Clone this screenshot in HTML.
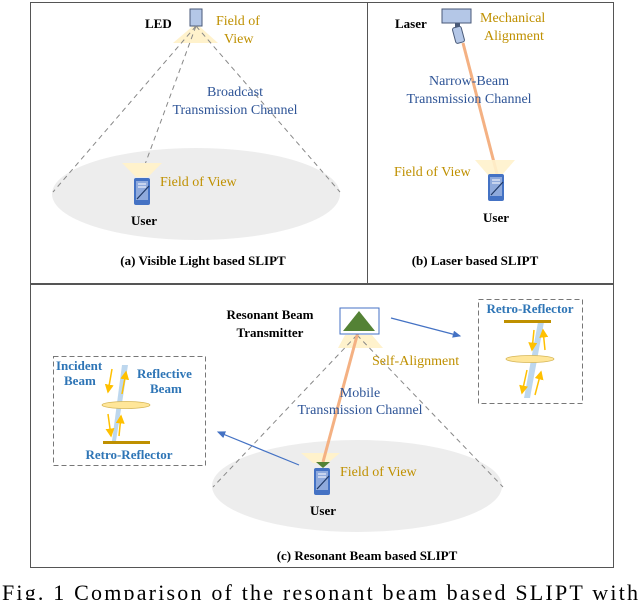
<!DOCTYPE html>
<html><head><meta charset="utf-8"><style>
html,body{margin:0;padding:0;background:#fff;}
svg{display:block;}
text{font-family:"Liberation Serif",serif;}
.b{font-weight:bold;fill:#000;font-size:13px;}
.bl{fill:#2f5597;font-size:14px;}
.g{fill:#bf9000;font-size:14px;}
.rb{fill:#2e75b6;font-weight:bold;font-size:13px;}
</style></head><body>
<svg width="640" height="600" viewBox="0 0 640 600" xmlns="http://www.w3.org/2000/svg">
<defs>
<marker id="ab" markerWidth="8" markerHeight="8" refX="6" refY="3" orient="auto"><path d="M0,0 L7,3 L0,6z" fill="#4472c4"/></marker>
<marker id="ay" markerWidth="6" markerHeight="6" refX="5" refY="3" orient="auto"><path d="M0,0 L6,3 L0,6z" fill="#ffc000"/></marker>
<g id="phone">
<rect x="0" y="0" width="16" height="27" rx="2" fill="#4472c4"/>
<rect x="2" y="3" width="12" height="19" fill="#8faadc"/>
<line x1="4" y1="6" x2="12" y2="6" stroke="#fff"/>
<line x1="4" y1="9" x2="12" y2="9" stroke="#fff"/>
<line x1="3" y1="21" x2="15" y2="8" stroke="#1f3864" stroke-width="1.2"/>
</g>
</defs>
<rect x="30.5" y="2.5" width="583" height="281" fill="none" stroke="#555"/>
<line x1="367.5" y1="2" x2="367.5" y2="284" stroke="#555"/>
<rect x="30.5" y="284.5" width="583" height="283" fill="none" stroke="#555"/>

<!-- Panel a -->
<ellipse cx="196" cy="194" rx="144" ry="46" fill="#ededed"/>
<polygon points="193,26 199,26 218,43 173,43" fill="#fff2cc"/>
<rect x="190" y="9" width="12" height="17" fill="#b4c7e7" stroke="#4a5a78"/>
<g stroke="#888" stroke-dasharray="5,4" fill="none">
<line x1="196" y1="26" x2="53" y2="192"/>
<line x1="196" y1="26" x2="340" y2="192"/>
<line x1="196" y1="26" x2="140" y2="178"/>
</g>
<polygon points="122,163 162,163 148,177 136,177" fill="#fff2cc"/>
<use href="#phone" x="134" y="178"/>
<text class="b" x="145" y="28">LED</text>
<text class="g" x="216" y="25">Field of</text>
<text class="g" x="224" y="43">View</text>
<text class="bl" x="235" y="96" text-anchor="middle">Broadcast</text>
<text class="bl" x="235" y="114" text-anchor="middle">Transmission Channel</text>
<text class="g" x="160" y="186">Field of View</text>
<text class="b" x="144" y="225" text-anchor="middle">User</text>
<text class="b" x="203" y="265" text-anchor="middle">(a) Visible Light based SLIPT</text>

<!-- Panel b -->
<line x1="463" y1="43" x2="497" y2="174" stroke="#f4b183" stroke-width="3"/>
<polygon points="475,160 515,160 502,175 488,175" fill="#fff2cc" opacity="0.9"/>
<rect x="442" y="9" width="29" height="14" fill="#b4c7e7" stroke="#4a5a78"/>
<rect x="455" y="23" width="5" height="5" fill="#4a5a78"/>
<rect x="454" y="27" width="9" height="16" rx="2" fill="#b4c7e7" stroke="#4a5a78" transform="rotate(-15 458 35)"/>
<use href="#phone" x="488" y="174"/>
<text class="b" x="395" y="28">Laser</text>
<text class="g" x="480" y="22">Mechanical</text>
<text class="g" x="484" y="40">Alignment</text>
<text class="bl" x="469" y="85" text-anchor="middle">Narrow-Beam</text>
<text class="bl" x="469" y="103" text-anchor="middle">Transmission Channel</text>
<text class="g" x="394" y="176">Field of View</text>
<text class="b" x="496" y="222" text-anchor="middle">User</text>
<text class="b" x="475" y="265" text-anchor="middle">(b) Laser based SLIPT</text>

<!-- Panel c -->
<ellipse cx="357" cy="486" rx="145" ry="46" fill="#ededed"/>
<polygon points="345,335 372,335 383,348 338,348" fill="#fff2cc"/>
<g stroke="#888" stroke-dasharray="5,4" fill="none">
<line x1="357" y1="335" x2="213" y2="487"/>
<line x1="357" y1="335" x2="503" y2="487"/>
</g>
<polygon points="301,453 340,453 328,463 313,463" fill="#fff2cc"/>
<line x1="358" y1="332" x2="323" y2="462" stroke="#f4b183" stroke-width="3"/>
<rect x="340" y="308" width="39" height="26" fill="#fff" stroke="#4472c4"/>
<polygon points="359,311 375,331 343,331" fill="#548235"/>
<polygon points="316,462 330,462 323,468" fill="#548235"/>
<use href="#phone" x="314" y="468"/>
<text class="b" x="270" y="319" text-anchor="middle">Resonant Beam</text>
<text class="b" x="270" y="337" text-anchor="middle">Transmitter</text>
<text class="g" x="372" y="365">Self-Alignment</text>
<text class="bl" x="360" y="397" text-anchor="middle">Mobile</text>
<text class="bl" x="360" y="414" text-anchor="middle">Transmission Channel</text>
<text class="g" x="340" y="476">Field of View</text>
<text class="b" x="323" y="515" text-anchor="middle">User</text>
<text class="b" x="367" y="560" text-anchor="middle">(c) Resonant Beam based SLIPT</text>
<line x1="391" y1="318" x2="460" y2="336" stroke="#4472c4" stroke-width="1.2" marker-end="url(#ab)"/>
<line x1="299" y1="465" x2="218" y2="432" stroke="#4472c4" stroke-width="1.2" marker-end="url(#ab)"/>

<!-- left box -->
<rect x="53.5" y="356.5" width="152" height="109" fill="#fff" stroke="#777" stroke-dasharray="5,3"/>
<polygon points="122,365 128,365 116,441 112,441" fill="#bdd7ee"/>
<ellipse cx="126" cy="405" rx="24" ry="3.5" fill="#ffe699" stroke="#d6b656" stroke-width="0.8"/>
<rect x="103" y="441" width="47" height="3" fill="#bf9000"/>
<g stroke="#ffc000" stroke-width="1.5" marker-end="url(#ay)">
<line x1="112" y1="369" x2="108" y2="392"/>
<line x1="122" y1="394" x2="126" y2="372"/>
<line x1="108" y1="414" x2="111" y2="436"/>
<line x1="119" y1="436" x2="121" y2="416"/>
</g>
<text class="rb" x="56" y="370">Incident</text>
<text class="rb" x="64" y="385">Beam</text>
<text class="rb" x="137" y="378">Reflective</text>
<text class="rb" x="150" y="393">Beam</text>
<text class="rb" x="129" y="459" text-anchor="middle">Retro-Reflector</text>

<!-- right box -->
<rect x="478.5" y="299.5" width="104" height="104" fill="#fff" stroke="#777" stroke-dasharray="5,3"/>
<polygon points="538,322 544,322 530,398 524,398" fill="#bdd7ee"/>
<rect x="504" y="320" width="47" height="3" fill="#bf9000"/>
<ellipse cx="530" cy="359" rx="24" ry="3.5" fill="#ffe699" stroke="#d6b656" stroke-width="0.8"/>
<g stroke="#ffc000" stroke-width="1.5" marker-end="url(#ay)">
<line x1="534" y1="330" x2="532" y2="350"/>
<line x1="545" y1="350" x2="543" y2="330"/>
<line x1="527" y1="370" x2="522" y2="393"/>
<line x1="535" y1="395" x2="541" y2="372"/>
</g>
<text class="rb" x="530" y="313" text-anchor="middle">Retro-Reflector</text>

<text x="2" y="600" style="font-size:22px;fill:#000;" textLength="636" lengthAdjust="spacing">Fig. 1 Comparison of the resonant beam based SLIPT with</text>
</svg>
</body></html>
